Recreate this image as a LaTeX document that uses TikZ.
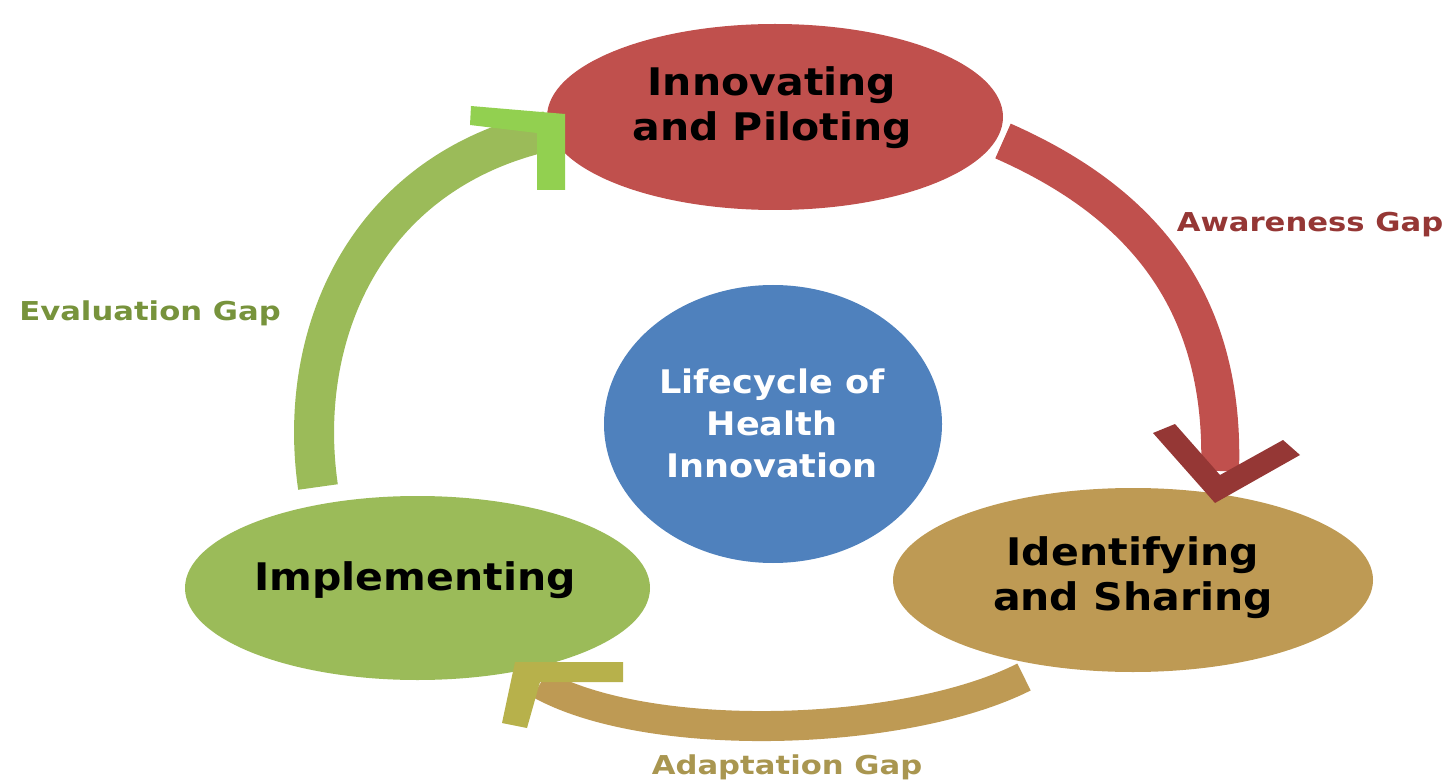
\documentclass[tikz,border=0pt]{standalone}
\usepackage{fontspec}
\usetikzlibrary{shapes.geometric}
\newfontfamily\stagefont[FakeStretch=1.08]{DejaVu Sans}
\newfontfamily\gapfont[FakeStretch=1.18]{DejaVu Sans}

\definecolor{innovRed}{HTML}{C0504D}
\definecolor{innovRedDark}{HTML}{953735}
\definecolor{implGreen}{HTML}{9BBB59}
\definecolor{implGreenLight}{HTML}{92D050}
\definecolor{implGreenDark}{HTML}{77933C}
\definecolor{identTan}{HTML}{BE9A54}
\definecolor{identOlive}{HTML}{B7B14B}
\definecolor{identTanText}{HTML}{A99650}
\definecolor{coreBlue}{HTML}{4F81BD}

\begin{document}
\begin{tikzpicture}[x=1pt,y=-1pt,
  stage/.style={ellipse, inner sep=0pt},
  stagetext/.style={align=center, inner sep=0pt, text=black,
    font=\stagefont\bfseries\fontsize{38}{45}\selectfont},
  coretext/.style={align=center, inner sep=0pt, text=white,
    font=\stagefont\bfseries\fontsize{32.5}{42}\selectfont},
  gaptext/.style={inner sep=0pt, font=\gapfont\bfseries\fontsize{26}{30}\selectfont},
  band/.style={line width=38pt, line cap=butt}]

\useasboundingbox (0,0) rectangle (1451,783);

% stages of the cycle
\node[stage, fill=innovRed, minimum width=456pt, minimum height=186pt] (innov) at (775,117) {};
\node[stage, fill=identTan, minimum width=480pt, minimum height=184pt] (ident) at (1133,580) {};
\node[stage, fill=implGreen, minimum width=465pt, minimum height=184pt] (impl) at (417.5,588) {};
\node[stage, fill=coreBlue, minimum width=338pt, minimum height=278pt] (core) at (773,424) {};

\node[stagetext] (innovT) at (772,108) {Innovating\\and Piloting};
\node[stagetext] (identT) at (1133,578) {Identifying\\and Sharing};
\node[stagetext] (implT) at (415,580) {Implementing};
\node[coretext] (coreT) at (772,423) {Lifecycle of\\Health\\Innovation};

% band end points
\coordinate (awStart) at (1003,141);
\coordinate (awEnd) at (1220,471);
\coordinate (adStart) at (1024,677);
\coordinate (adEnd) at (540,684);
\coordinate (evStart) at (318,487);
\coordinate (evEnd) at (548,131);

% curved bands between stages
\draw[band, innovRed] (awStart) .. controls (1132,198) and (1226,292) .. (awEnd);
\draw[band, identTan, line width=30pt] (adStart) .. controls (905,737) and (650,745) .. (adEnd);
\draw[band, implGreen, line width=40pt] (evStart) .. controls (296,335) and (365,172) .. (evEnd);

% chevron heads
\fill[innovRedDark] (1153,433) -- (1215,503) -- (1300,455) -- (1283,440) -- (1220,475) -- (1175,424) -- cycle;
\fill[implGreenLight] (471,106) -- (565,114) -- (565,190) -- (537,190) -- (537,133) -- (470,125) -- cycle;
\fill[identOlive] (515,662) -- (623,662) -- (623,682) -- (540,682) -- (527,728) -- (502,723) -- cycle;

% gap labels
\node[gaptext, text=innovRedDark] (awareness) at (1310,225) {Awareness Gap};
\node[gaptext, text=implGreenDark] (evaluation) at (150,313) {Evaluation Gap};
\node[gaptext, text=identTanText] (adaptation) at (787,767) {Adaptation Gap};
\end{tikzpicture}
\end{document}
